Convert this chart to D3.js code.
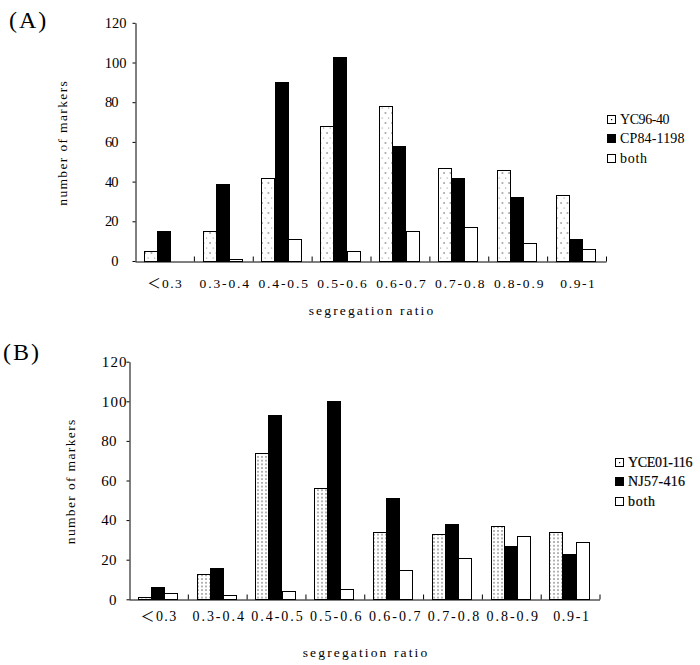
<!DOCTYPE html>
<html>
<head>
<meta charset="utf-8">
<script src="https://cdn.jsdelivr.net/npm/d3@7"></script>
<style>
html,body{margin:0;padding:0;background:#fff;}
svg{display:block;}
text{fill:#000;}
</style>
</head>
<body>
<svg id="chart" width="700" height="665"></svg>
<script>
// ---------- DATA ----------
const categories = ["\uFF1C0.3","0.3-0.4","0.4-0.5","0.5-0.6","0.6-0.7","0.7-0.8","0.8-0.9","0.9-1"];
const yTicks = [0,20,40,60,80,100,120];

const seriesA = ["YC96-40","CP84-1198","both"];
const valuesA_YC96_40   = [5,15,42,68,78,47,46,33];
const valuesA_CP84_1198 = [15,39,90,103,58,42,32,11];
const valuesA_both      = [0,1,11,5,15,17,9,6];

const seriesB = ["YCE01-116","NJ57-416","both"];
const valuesB_YCE01_116 = [1,13,74,56,34,33,37,34];
const valuesB_NJ57_416  = [6,16,93,100,51,38,27,23];
const valuesB_both      = [3,2,4,5,15,21,32,29];

const xTitle = "segregation ratio";
const yTitle = "number of markers";

// ---------- DRAW ----------
const svg = d3.select("#chart");
const defs = svg.append("defs");

// pattern A: sparse dots
const pA = defs.append("pattern").attr("id","dotsA").attr("patternUnits","userSpaceOnUse")
  .attr("width",6.5).attr("height",10);
pA.append("rect").attr("width",6.5).attr("height",10).attr("fill","#fff");
pA.append("circle").attr("cx",2).attr("cy",3).attr("r",0.7).attr("fill","#444");
pA.append("circle").attr("cx",5.2).attr("cy",8).attr("r",0.6).attr("fill","#777");

// pattern B: dense dots
const pB = defs.append("pattern").attr("id","dotsB").attr("patternUnits","userSpaceOnUse")
  .attr("width",4).attr("height",3.7);
pB.append("rect").attr("width",4).attr("height",3.7).attr("fill","#fff");
pB.append("circle").attr("cx",2).attr("cy",1.8).attr("r",0.65).attr("fill","#222");

const SERIF = "'Liberation Serif', 'DejaVu Serif', 'Noto Sans CJK SC', serif";
const CW = 7.5; // monospace-like advance per half-width character, px

// emulate a monospaced CJK-style typeface: spread glyphs to fixed advance
function mono(sel, size, cw){
  sel.attr("font-family", SERIF).attr("font-size", size)
    .each(function(){
      const t = this.textContent;
      let units = 0;
      for (const ch of t) units += ch.charCodeAt(0) > 0x2000 ? 2 : 1;
      const target = (units - 0.4) * (cw || CW);
      const natural = this.getComputedTextLength();
      const n = Math.max(1, [...t].length - 1);
      const ls = (target - natural) / n;
      d3.select(this).attr("letter-spacing", ls);
      const anchor = this.getAttribute("text-anchor");
      if (anchor === "middle") d3.select(this).attr("dx", ls/2);
      else if (anchor === "end") d3.select(this).attr("dx", ls);
    });
}

function drawPanel(cfg){
  const g = svg.append("g");
  const x = d3.scaleBand().domain(categories).range([cfg.x0, cfg.x1]);
  const y = d3.scaleLinear().domain([0,120]).range([cfg.y0, cfg.yTop]);
  const bw = x.bandwidth();
  const gw = bw*0.67;
  const xs = d3.scaleBand().domain(d3.range(cfg.series.length)).range([0, gw]);
  const fills = [`url(#${cfg.pattern})`, "#000", "#fff"];

  cfg.values.forEach((vals, si) => {
    g.append("g").selectAll("rect").data(vals).join("rect")
      .attr("x", (d,i) => Math.round(x(categories[i]) + (bw-gw)/2 - 1 + xs(si)) + 0.5)
      .attr("y", d => Math.round(y(d)) + 0.5)
      .attr("width", Math.round(xs.bandwidth()))
      .attr("height", d => Math.max(0, Math.round(y(0)) - Math.round(y(d))))
      .attr("fill", fills[si])
      .attr("stroke", "#000")
      .attr("stroke-width", 1);
  });

  // y axis
  const ya = g.append("g").attr("transform", `translate(${Math.round(cfg.x0)+0.5},0)`)
    .call(d3.axisLeft(y).tickValues(yTicks).tickSize(3).tickSizeOuter(0));
  ya.select(".domain").attr("stroke","#000");
  ya.selectAll(".tick line").attr("stroke","#000");
  ya.selectAll(".tick text")
    .attr("fill","#000")
    .attr("x", d => d >= 100 ? cfg.yLab3 - cfg.x0 : cfg.yLab2 - cfg.x0)
    .attr("text-anchor","end")
    .call(mono, cfg.yTickFont, cfg.yTickCW);

  // x axis line with inner ticks at band boundaries
  const xl = d3.scaleLinear().domain([0, categories.length]).range([cfg.x0, cfg.x1]);
  const xa = g.append("g").attr("transform", `translate(0,${Math.round(cfg.y0)+0.5})`)
    .call(d3.axisBottom(xl).tickValues(d3.range(1, categories.length+1)).tickSize(-5).tickSizeOuter(0).tickFormat(""));
  xa.select(".domain").attr("stroke","#000");
  xa.selectAll(".tick line").attr("stroke","#000");

  // category labels
  g.append("g").selectAll("text").data(categories).join("text")
    .attr("x", d => x(d) + bw/2 + (d === categories[0] ? 0 : 1))
    .attr("y", cfg.xLabY)
    .attr("text-anchor","middle")
    .text(d => d)
    .call(mono, cfg.xTickFont, cfg.xTickCW);

  // axis titles
  g.append("text").attr("x", cfg.xTitleX).attr("y", cfg.xTitleY)
    .attr("text-anchor","middle")
    .text(xTitle).call(mono, 13.5);
  g.append("g").attr("transform", `translate(${cfg.yTitleX},${cfg.yTitleY}) rotate(-90)`)
    .append("text").attr("x",0).attr("y",0)
    .attr("text-anchor","middle")
    .text(yTitle).call(mono, 13.5);

  // panel letter
  g.append("text").attr("x", cfg.letterX).attr("y", cfg.letterY)
    .attr("font-family","'Liberation Serif', 'DejaVu Serif', serif")
    .attr("font-size", 24).attr("letter-spacing", 2)
    .text(cfg.letter);

  // legend
  const lg = g.append("g");
  cfg.series.forEach((name, si) => {
    const cy = cfg.legY + si*19.5;
    lg.append("rect")
      .attr("x", cfg.legX + 0.5).attr("y", Math.round(cy - 4) + 0.5)
      .attr("width", 8).attr("height", 8)
      .attr("fill", si === 1 ? "#000" : "#fff").attr("stroke","#000");
    if (si === 0) {
      lg.append("rect").attr("x", cfg.legX + 4).attr("y", Math.round(cy - 4) + 4)
        .attr("width",1.2).attr("height",1.2).attr("fill","#000");
    }
    lg.append("text").attr("x", cfg.legX + 13).attr("y", cy + 5)
      .attr("stroke", cfg.legStroke ? "#000" : null)
      .attr("stroke-width", cfg.legStroke || null)
      .text(name).call(mono, 14);
  });
}

drawPanel({
  letter:"(A)", letterX:9, letterY:28,
  x0:135, x1:606, y0:261, yTop:22.8,
  series: seriesA,
  values: [valuesA_YC96_40, valuesA_CP84_1198, valuesA_both],
  pattern:"dotsA",
  yTickFont:14.5, yTickCW:8.4, yLab2:118, yLab3:126,
  xTickFont:13.5, xTickCW:7.5, xLabY:288,
  xTitleX:371, xTitleY:315,
  yTitleX:67, yTitleY:143.5,
  legX:607, legY:118.5, legStroke:0
});

drawPanel({
  letter:"(B)", letterX:3, letterY:360,
  x0:129, x1:599.5, y0:599.3, yTop:361.7,
  series: seriesB,
  values: [valuesB_YCE01_116, valuesB_NJ57_416, valuesB_both],
  pattern:"dotsB",
  yTickFont:15, yTickCW:9.5, yLab2:116, yLab3:126,
  xTickFont:14, xTickCW:7.8, xLabY:621,
  xTitleX:365, xTitleY:657,
  yTitleX:75, yTitleY:482,
  legX:615, legY:461.5, legStroke:0.2
});
</script>
</body>
</html>
